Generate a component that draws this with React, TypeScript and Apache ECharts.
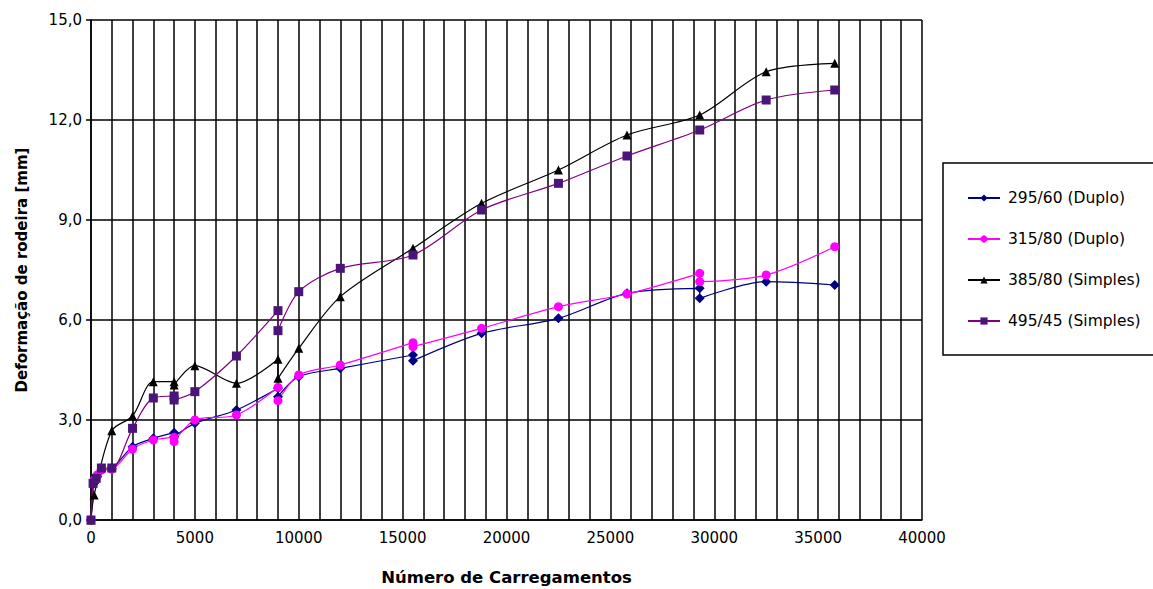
import React, { useEffect, useRef } from "react";
import * as echarts from "echarts";

// ---------- data ----------
const seriesNames = ["295/60 (Duplo)", "315/80 (Duplo)", "385/80 (Simples)", "495/45 (Simples)"];

const x295 = [0, 150, 300, 500, 1000, 2000, 3000, 4000, 4000, 5000, 7000, 9000, 9000, 10000, 12000, 15500, 15500, 18800, 22500, 25800, 29300, 29300, 32500, 35800];
const y295 = [0, 1.1, 1.3, 1.5, 1.55, 2.2, 2.45, 2.62, 2.5, 2.9, 3.3, 3.95, 3.7, 4.3, 4.55, 4.95, 4.78, 5.6, 6.05, 6.8, 6.95, 6.65, 7.15, 7.05];

const x315 = [0, 150, 300, 500, 1000, 2000, 3000, 4000, 4000, 5000, 7000, 9000, 9000, 10000, 12000, 15500, 15500, 18800, 22500, 25800, 29300, 29300, 32500, 35800];
const y315 = [0, 1.2, 1.35, 1.5, 1.52, 2.13, 2.4, 2.48, 2.35, 3.0, 3.15, 3.98, 3.58, 4.35, 4.65, 5.32, 5.2, 5.75, 6.4, 6.78, 7.4, 7.15, 7.35, 8.2];

const x385 = [0, 150, 1000, 2000, 3000, 4000, 4000, 5000, 7000, 9000, 9000, 10000, 12000, 15500, 18800, 22500, 25800, 29300, 32500, 35800];
const y385 = [0, 0.75, 2.68, 3.12, 4.15, 4.15, 4.05, 4.63, 4.1, 4.82, 4.25, 5.15, 6.7, 8.15, 9.5, 10.5, 11.55, 12.15, 13.45, 13.7];

const x495 = [0, 100, 250, 500, 1000, 2000, 3000, 4000, 4000, 5000, 7000, 9000, 9000, 10000, 12000, 15500, 18800, 22500, 25800, 29300, 32500, 35800];
const y495 = [0, 1.1, 1.25, 1.56, 1.56, 2.75, 3.66, 3.72, 3.6, 3.85, 4.92, 6.28, 5.68, 6.85, 7.55, 7.95, 9.3, 10.1, 10.92, 11.7, 12.6, 12.9];

const xMin = 0, xMax = 40000, xStep = 1000, xLabelStep = 5000;
const yMin = 0, yMax = 15, yStep = 3;

const xTitle = "Número de Carregamentos";
const yTitle = "Deformação de rodeira [mm]";

const zip = (xs: number[], ys: number[]) => xs.map((x, i) => [x, ys[i]]);

export default function App() {
  const ref = useRef<HTMLDivElement>(null);

  useEffect(() => {
    document.body.style.margin = "0";
    if (!ref.current) return;
    const chart = echarts.init(ref.current, undefined, { renderer: "svg" });
    const font = "DejaVu Sans";
    const mk = (
      name: string,
      data: number[][],
      symbol: string,
      color: string,
      lineColor: string,
      size: number
    ) => ({
      name,
      type: "line",
      data,
      symbol,
      symbolSize: size,
      smooth: 0.3,
      itemStyle: { color },
      lineStyle: { color: lineColor, width: 1.2 },
      emphasis: { disabled: true },
    });

    chart.setOption({
      animation: false,
      backgroundColor: "#ffffff",
      textStyle: { fontFamily: font, color: "#000" },
      grid: { left: 91, top: 20, width: 831, height: 500, containLabel: false, outerBoundsMode: "none" },
      graphic: [
        {
          type: "rect",
          shape: { x: 943, y: 163, width: 230, height: 192 },
          style: { fill: "#fff", stroke: "#000", lineWidth: 1.5 },
          z: 0,
        },
      ],
      legend: {
        orient: "vertical",
        left: 962,
        top: 185,
        itemWidth: 32,
        itemHeight: 9,
        itemGap: 25,
        textStyle: { fontFamily: font, fontSize: 15.5, color: "#000", padding: [0, 0, 0, 3] },
        data: seriesNames,
        z: 5,
      },
      xAxis: {
        type: "value",
        min: xMin,
        max: xMax,
        interval: xStep,
        name: xTitle,
        nameLocation: "middle",
        nameGap: 49,
        nameTextStyle: { fontFamily: font, fontSize: 16.5, fontWeight: "bold", color: "#000" },
        axisLine: { show: true, lineStyle: { color: "#000", width: 1.5 } },
        axisTick: { show: false },
        axisLabel: {
          margin: 10,
          fontFamily: font,
          fontSize: 15,
          color: "#000",
          formatter: (v: number) => (v % xLabelStep === 0 ? String(v) : ""),
        },
        splitLine: { show: true, lineStyle: { color: "#000", width: 1.5 } },
      },
      yAxis: {
        type: "value",
        min: yMin,
        max: yMax,
        interval: yStep,
        name: yTitle,
        nameLocation: "middle",
        nameGap: 62,
        nameTextStyle: { fontFamily: font, fontSize: 15, fontWeight: "bold", color: "#000" },
        axisLine: { show: true, lineStyle: { color: "#000", width: 1.5 } },
        axisTick: { show: true, length: 5, lineStyle: { color: "#000", width: 1.5 } },
        axisLabel: {
          margin: 9,
          fontFamily: font,
          fontSize: 15,
          color: "#000",
          formatter: (v: number) => v.toFixed(1).replace(".", ","),
        },
        splitLine: { show: true, lineStyle: { color: "#000", width: 1.5 } },
      },
      series: [
        mk(seriesNames[0], zip(x295, y295), "diamond", "#000080", "#000080", 10),
        mk(seriesNames[1], zip(x315, y315), "circle", "#ff00ff", "#ff00ff", 9),
        mk(seriesNames[2], zip(x385, y385), "triangle", "#000000", "#000000", 9),
        mk(seriesNames[3], zip(x495, y495), "rect", "#4a1478", "#800080", 9),
      ],
    });
    return () => chart.dispose();
  }, []);

  return <div ref={ref} style={{ width: 1153, height: 589 }} />;
}
